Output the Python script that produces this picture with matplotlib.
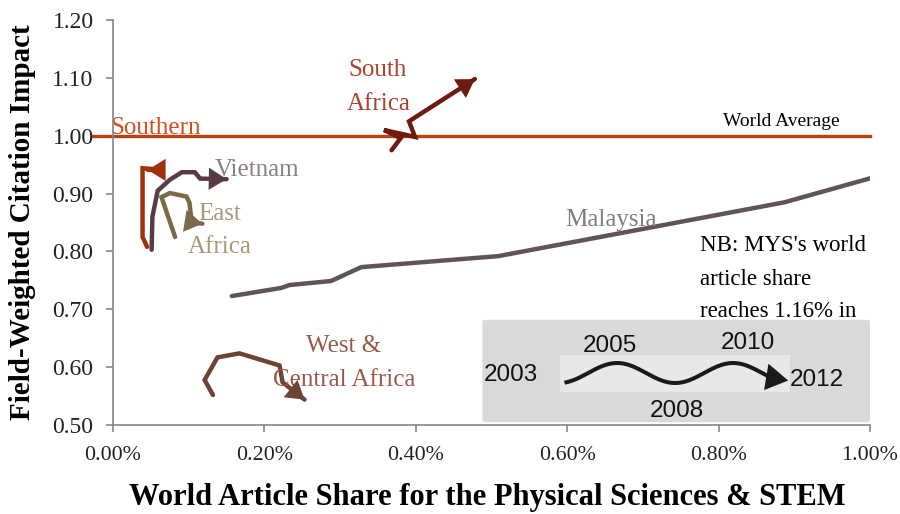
import numpy as np
import matplotlib
matplotlib.use("Agg")
import matplotlib.pyplot as plt
from matplotlib.patches import FancyBboxPatch, Rectangle, FancyArrowPatch
from matplotlib.ticker import FuncFormatter

plt.rcParams['font.family'] = ['Liberation Serif', 'DejaVu Serif']

# world article share (%) and field-weighted citation impact, 2003 -> 2012
malaysia_x = [0.157, 0.222, 0.233, 0.288, 0.328, 0.509, 0.887, 1.16]
malaysia_y = [0.723, 0.737, 0.742, 0.749, 0.773, 0.792, 0.885, 0.985]

south_africa_x = [0.368, 0.380, 0.358, 0.399, 0.391, 0.478]
south_africa_y = [0.975, 0.996, 1.010, 0.998, 1.025, 1.098]

southern_x = [0.045, 0.039, 0.039, 0.066, 0.046]
southern_y = [0.808, 0.825, 0.944, 0.941, 0.941]

vietnam_x = [0.051, 0.052, 0.059, 0.075, 0.091, 0.108, 0.115, 0.150]
vietnam_y = [0.803, 0.860, 0.905, 0.924, 0.937, 0.937, 0.926, 0.925]

east_africa_x = [0.082, 0.064, 0.075, 0.097, 0.101, 0.103, 0.104, 0.118]
east_africa_y = [0.825, 0.894, 0.901, 0.895, 0.884, 0.862, 0.851, 0.848]

west_x = [0.132, 0.121, 0.138, 0.167, 0.220, 0.224, 0.253]
west_y = [0.552, 0.578, 0.617, 0.624, 0.603, 0.574, 0.544]

world_avg_x = [-0.027, 1.0]
world_avg_y = [1.0, 1.0]

legend_years = ["2003", "2005", "2008", "2010", "2012"]

fig = plt.figure(figsize=(9, 5.14), dpi=100)
ax = fig.add_axes([0.1256, 0.173, 0.841, 0.788])
ax.set_xlim(0, 1.0)
ax.set_ylim(0.5, 1.2)


def draw_path(xs, ys, color, arrow=True):
    ax.plot(xs, ys, color=color, lw=3.2, solid_capstyle='round',
            solid_joinstyle='miter', zorder=3)
    if arrow:
        a = FancyArrowPatch((xs[-2], ys[-2]), (xs[-1], ys[-1]),
                            arrowstyle='-|>,head_length=0.8,head_width=0.5',
                            mutation_scale=16, color=color, lw=0,
                            shrinkA=0, shrinkB=0, zorder=4)
        ax.add_patch(a)


ax.plot(world_avg_x, world_avg_y, color='#B8400E', lw=2.4, clip_on=False, zorder=2)
draw_path(malaysia_x, malaysia_y, '#5F5558', arrow=False)
draw_path(south_africa_x, south_africa_y, '#6E1A10')
draw_path(southern_x, southern_y, '#A0300E')
draw_path(vietnam_x, vietnam_y, '#5A3A44')
draw_path(east_africa_x, east_africa_y, '#7A6A48')
draw_path(west_x, west_y, '#6B4434')

# series labels
lab = 18
ax.text(-0.004, 1.013, "Southern", color='#D0501E', fontsize=lab, ha='left', va='center', zorder=1)
ax.text(0.134, 0.941, "Vietnam", color='#8A7F85', fontsize=lab, va='center')
ax.text(0.112, 0.865, "East", color='#A8987A', fontsize=lab, va='center')
ax.text(0.099, 0.808, "Africa", color='#A8987A', fontsize=lab, va='center')
ax.text(0.350, 1.114, "South", color='#A9442F', fontsize=lab, ha='center', va='center')
ax.text(0.351, 1.055, "Africa", color='#A9442F', fontsize=lab, ha='center', va='center')
ax.text(0.305, 0.637, "West &", color='#9A5A4A', fontsize=lab, ha='center', va='center')
ax.text(0.305, 0.578, "Central Africa", color='#9A5A4A', fontsize=lab, ha='center', va='center')
ax.text(0.598, 0.854, "Malaysia", color='#7F7F7F', fontsize=lab, va='center')
ax.text(0.806, 1.024, "World Average", color='black', fontsize=14, va='center')
nb_lines = ["NB: MYS's world", "article share", "reaches 1.16% in"]
for line, ly in zip(nb_lines, [0.811, 0.752, 0.697]):
    ax.text(0.775, ly, line, color='black', fontsize=16.5, va='center')

# year legend box
box = FancyBboxPatch((0.488, 0.505), 0.512, 0.177, boxstyle='round,pad=0,rounding_size=0.006',
                     transform=ax.transData, facecolor='#D9D9D9', edgecolor='none',
                     mutation_aspect=0.6, zorder=1)
ax.add_patch(box)
inner = Rectangle((0.591, 0.557), 0.303, 0.064, facecolor='#E8E8E8', edgecolor='none', zorder=1)
ax.add_patch(inner)
wx = np.linspace(0.599, 0.869, 200)
wy = 0.590 + 0.0173 * np.cos(2 * np.pi * (wx - 0.666) / 0.1532)
ax.plot(wx, wy, color='#1A1A1A', lw=2.9, zorder=2)
ax.add_patch(FancyArrowPatch((wx[-1] - 0.01, wy[-1] + 0.002), (0.892, 0.577),
                             arrowstyle='-|>,head_length=1.0,head_width=0.6',
                             mutation_scale=16, color='#1A1A1A', lw=0,
                             shrinkA=0, shrinkB=0, zorder=3))
sans = ['Liberation Sans', 'DejaVu Sans']
legend_pos = [(0.526, 0.587), (0.656, 0.637), (0.745, 0.524), (0.839, 0.642), (0.930, 0.578)]
for yr, (lx, ly) in zip(legend_years, legend_pos):
    ax.text(lx, ly, yr, family=sans, fontsize=17.5, ha='center', va='center', color='#111111', zorder=4)

# axes styling
for s in ['top', 'right']:
    ax.spines[s].set_visible(False)
for s in ['left', 'bottom']:
    ax.spines[s].set_color('#868686')
    ax.spines[s].set_linewidth(1.2)
ax.set_xticks(np.arange(0, 1.01, 0.2))
ax.set_yticks(np.arange(0.5, 1.21, 0.1))
ax.xaxis.set_major_formatter(FuncFormatter(lambda v, p: f"{v:.2f}%"))
ax.yaxis.set_major_formatter(FuncFormatter(lambda v, p: f"{v:.2f}"))
ax.tick_params(axis='both', direction='out', length=5, width=1.2, color='#868686',
               labelsize=17, labelcolor='#222222')
ax.tick_params(axis='x', pad=10, labelsize=15.8)
ax.tick_params(axis='y', pad=9)
ax.set_xlabel("World Article Share for the Physical Sciences & STEM",
              fontsize=22, fontweight='bold', va='center')
ax.xaxis.set_label_coords(0.495, -0.178)
ax.set_ylabel("Field-Weighted Citation Impact", fontsize=21, fontweight='bold', va='center')
ax.yaxis.set_label_coords(-0.12, 0.5)

fig.savefig("out.png", dpi=100)
